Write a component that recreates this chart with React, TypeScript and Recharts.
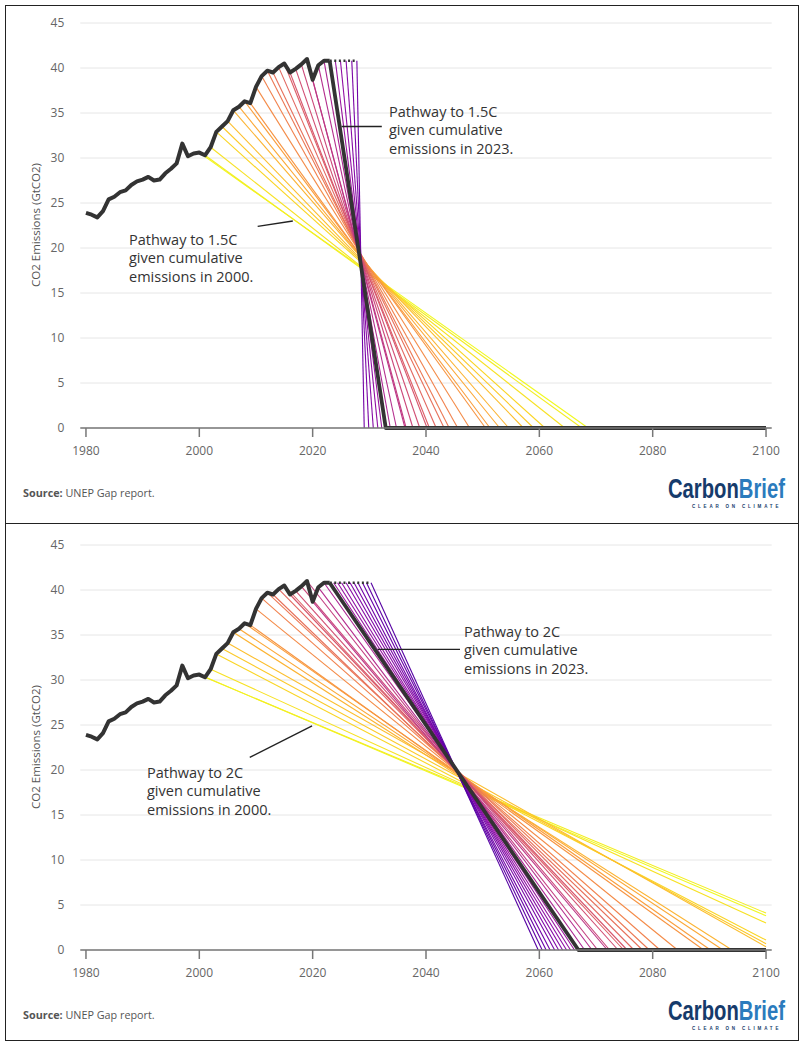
import { CartesianGrid, Line, LineChart, ReferenceLine, XAxis, YAxis } from "recharts";

// historical emissions, GtCO2
const histYears = [
  1980, 1981, 1982, 1983, 1984, 1985, 1986, 1987, 1988, 1989, 1990, 1991, 1992, 1993, 1994,
  1995, 1996, 1997, 1998, 1999, 2000, 2001, 2002, 2003, 2004, 2005, 2006, 2007, 2008, 2009,
  2010, 2011, 2012, 2013, 2014, 2015, 2016, 2017, 2018, 2019, 2020, 2021, 2022, 2023,
];
const histValues = [
  23.9, 23.7, 23.4, 24.1, 25.4, 25.7, 26.2, 26.4, 27.0, 27.4, 27.6, 27.9, 27.5, 27.6, 28.3,
  28.8, 29.4, 31.6, 30.2, 30.5, 30.6, 30.3, 31.2, 32.9, 33.5, 34.1, 35.3, 35.7, 36.3, 36.1,
  37.9, 39.1, 39.7, 39.5, 40.1, 40.5, 39.5, 39.9, 40.4, 41.0, 38.7, 40.3, 40.8, 40.8,
];
const flatLevel = 40.8;

// pathways starting from historical years 2000..2022
const preStartYears = [
  2000, 2001, 2002, 2003, 2004, 2005, 2006, 2007, 2008, 2009, 2010, 2011, 2012, 2013, 2014,
  2015, 2016, 2017, 2018, 2019, 2020, 2021, 2022,
];

// 1.5C panel
const pre15EndYear = [
  2068.6, 2067.5, 2064.5, 2061.0, 2059.0, 2057.2, 2054.6, 2053.0, 2051.3, 2050.5, 2047.7,
  2045.6, 2044.1, 2043.2, 2041.8, 2040.6, 2040.2, 2038.9, 2037.7, 2036.5, 2036.3, 2034.8,
  2033.7,
];
const pre15EndValue = [0, 0, 0, 0, 0, 0, 0, 0, 0, 0, 0, 0, 0, 0, 0, 0, 0, 0, 0, 0, 0, 0, 0];
const post15Start = [2024, 2024.9, 2025.9, 2026.9, 2027.8];
const post15End = [2032.2, 2031.5, 2030.7, 2029.9, 2029.1];
const main15End = 2032.9;

// 2C panel
const pre2EndYear = [
  2100, 2100, 2100, 2100, 2100, 2100, 2094.0, 2092.4, 2090.2, 2089.0, 2084.4, 2081.3, 2079.4,
  2078.2, 2076.7, 2074.9, 2075.5, 2073.9, 2072.4, 2070.3, 2072.0, 2069.3, 2068.0,
];
const pre2EndValue = [3.8, 4.1, 3.0, 1.1, 0.7, 0.35, 0, 0, 0, 0, 0, 0, 0, 0, 0, 0, 0, 0, 0, 0, 0, 0, 0];
const post2Start = [2023.7, 2024.4, 2025.1, 2025.9, 2026.6, 2027.3, 2028.0, 2028.8, 2029.5, 2030.3];
const post2End = [2066.2, 2065.5, 2064.8, 2064.1, 2063.4, 2062.7, 2061.9, 2061.2, 2060.5, 2059.8];
const main2End = 2066.9;

const xTicks = [1980, 2000, 2020, 2040, 2060, 2080, 2100];
const yTicks = [0, 5, 10, 15, 20, 25, 30, 35, 40, 45];

const FONT = "'Open Sans', 'Noto Sans', sans-serif";

const PLASMA = [
  "#0d0887", "#41049d", "#6a00a8", "#8f0da4", "#b12a90", "#cc4778",
  "#e16462", "#f2844b", "#fca636", "#fcce25", "#f0f921",
];

function hex(c: string) {
  return [1, 3, 5].map((i) => parseInt(c.slice(i, i + 2), 16));
}

function plasma(u: number) {
  const p = Math.max(0, Math.min(1, u)) * 10;
  const i = Math.min(9, Math.floor(p));
  const f = p - i;
  const a = hex(PLASMA[i]);
  const b = hex(PLASMA[i + 1]);
  const m = a.map((v, k) => Math.round(v + (b[k] - v) * f));
  return `rgb(${m[0]},${m[1]},${m[2]})`;
}

function pathColor(start: number) {
  return plasma(1 - (start - 2000) * 0.028);
}

function histAt(year: number) {
  return histValues[histYears.indexOf(year)];
}

type Pt = { x: number; y: number };
type Path = { start: number; pts: Pt[] };

type PanelProps = {
  top: number;
  preEndYear: number[];
  preEndValue: number[];
  postStart: number[];
  postEnd: number[];
  mainEnd: number;
  leaders: [Pt, Pt][];
  notes: { left: number; top: number; lines: string[] }[];
};

function Logo() {
  return (
    <svg style={{ position: "absolute", left: 650, top: 470 }} width={145} height={45}>
      <text
        transform="translate(18,28) scale(0.723,1)"
        fontFamily="'Liberation Sans', Arial, sans-serif"
        fontWeight="bold"
        fontSize={28}
      >
        <tspan fill="#163b6b">Carbon</tspan>
        <tspan fill="#2b7bbd">Brief</tspan>
      </text>
      <text
        x={42}
        y={38}
        fontFamily="'Liberation Sans', Arial, sans-serif"
        fontWeight="bold"
        fontSize={4.5}
        letterSpacing={2.8}
        fill="#163b6b"
      >
        CLEAR ON CLIMATE
      </text>
    </svg>
  );
}

function Panel(props: PanelProps) {
  const hist = histYears.map((x, i) => ({ x, y: histValues[i] }));
  const paths: Path[] = [
    ...preStartYears.map((s, i) => ({
      start: s,
      pts: [
        { x: s, y: histAt(s) },
        { x: props.preEndYear[i], y: props.preEndValue[i] },
      ],
    })),
    ...props.postStart.map((s, i) => ({
      start: s,
      pts: [
        { x: s, y: flatLevel },
        { x: props.postEnd[i], y: 0 },
      ],
    })),
  ];
  const flatEnd = props.postStart[props.postStart.length - 1];
  const dotted = [
    { x: 2023, y: flatLevel },
    { x: flatEnd, y: flatLevel },
  ];
  const main = [
    { x: 2023, y: flatLevel },
    { x: props.mainEnd, y: 0 },
    { x: 2100, y: 0 },
  ];

  return (
    <div style={{ position: "absolute", left: 0, top: props.top, width: 800, height: 518 }}>
      <LineChart
        width={800}
        height={463}
        margin={{ top: 23, right: 28.3, bottom: 5, left: 20.3 }}
      >
        <CartesianGrid vertical={false} stroke="#e6e6e6" strokeWidth={1} />
        <XAxis
          type="number"
          dataKey="x"
          domain={[1979, 2101]}
          ticks={xTicks}
          allowDataOverflow
          stroke="#777"
          strokeWidth={1.5}
          tickSize={9}
          tickMargin={9}
          height={30}
          tick={{ fill: "#666", fontSize: 12, fontFamily: FONT }}
        />
        <YAxis
          type="number"
          domain={[0, 45]}
          ticks={yTicks}
          axisLine={false}
          tickLine={false}
          tickSize={0}
          tickMargin={16}
          width={60}
          tick={{ fill: "#666", fontSize: 12, fontFamily: FONT }}
        />
        {paths.map((p, i) => (
          <Line
            key={`p${i}`}
            data={p.pts}
            dataKey="y"
            stroke={pathColor(p.start)}
            strokeWidth={1.1}
            dot={false}
            activeDot={false}
            isAnimationActive={false}
          />
        ))}
        <Line
          data={hist}
          dataKey="y"
          stroke="#333"
          strokeWidth={4}
          strokeLinejoin="round"
          dot={false}
          activeDot={false}
          isAnimationActive={false}
        />
        <Line
          data={dotted}
          dataKey="y"
          stroke="#333"
          strokeWidth={2.5}
          strokeDasharray="2 2.6"
          dot={false}
          activeDot={false}
          isAnimationActive={false}
        />
        <Line
          data={main}
          dataKey="y"
          stroke="#333"
          strokeWidth={3.8}
          strokeLinejoin="round"
          dot={false}
          activeDot={false}
          isAnimationActive={false}
        />
        {props.leaders.map((seg, i) => (
          <ReferenceLine key={`l${i}`} segment={seg} stroke="#222" strokeWidth={1.4} />
        ))}
      </LineChart>

      <div
        style={{
          position: "absolute",
          left: 35,
          top: 225,
          transform: "translate(-50%, -50%) rotate(-90deg)",
          whiteSpace: "nowrap",
          fontFamily: FONT,
          fontSize: 11.5,
          color: "#555",
        }}
      >
        CO2 Emissions (GtCO2)
      </div>

      {props.notes.map((n, i) => (
        <div
          key={`n${i}`}
          style={{
            position: "absolute",
            left: n.left,
            top: n.top,
            fontFamily: FONT,
            fontSize: 14.5,
            lineHeight: "18.8px",
            color: "#333",
            whiteSpace: "nowrap",
          }}
        >
          {n.lines.map((t) => (
            <div key={t}>{t}</div>
          ))}
        </div>
      ))}

      <div
        style={{
          position: "absolute",
          left: 23,
          top: 485,
          fontFamily: FONT,
          fontSize: 10.8,
          color: "#555",
          whiteSpace: "nowrap",
        }}
      >
        <b>Source:</b> UNEP Gap report.
      </div>

      <Logo />
    </div>
  );
}

export default function App() {
  return (
    <div style={{ position: "absolute", left: 0, top: 0, width: 800, height: 1042, background: "#fff" }}>
      <div
        style={{
          position: "absolute",
          left: 5,
          top: 5,
          width: 794,
          height: 519,
          border: "1px solid #222",
          boxSizing: "border-box",
        }}
      />
      <div
        style={{
          position: "absolute",
          left: 5,
          top: 523,
          width: 794,
          height: 518,
          border: "1px solid #222",
          boxSizing: "border-box",
        }}
      />
      <Panel
        top={0}
        preEndYear={pre15EndYear}
        preEndValue={pre15EndValue}
        postStart={post15Start}
        postEnd={post15End}
        mainEnd={main15End}
        leaders={[
          [
            { x: 2025.1, y: 33.5 },
            { x: 2032.2, y: 33.5 },
          ],
          [
            { x: 2010.3, y: 22.4 },
            { x: 2016.5, y: 23.0 },
          ],
        ]}
        notes={[
          { left: 389, top: 102.5, lines: ["Pathway to 1.5C", "given cumulative", "emissions in 2023."] },
          { left: 129, top: 230.5, lines: ["Pathway to 1.5C", "given cumulative", "emissions in 2000."] },
        ]}
      />
      <Panel
        top={522}
        preEndYear={pre2EndYear}
        preEndValue={pre2EndValue}
        postStart={post2Start}
        postEnd={post2End}
        mainEnd={main2End}
        leaders={[
          [
            { x: 2031.5, y: 33.4 },
            { x: 2046.0, y: 33.4 },
          ],
          [
            { x: 2008.9, y: 21.4 },
            { x: 2019.9, y: 24.9 },
          ],
        ]}
        notes={[
          { left: 464, top: 100.5, lines: ["Pathway to 2C", "given cumulative", "emissions in 2023."] },
          { left: 147, top: 241.5, lines: ["Pathway to 2C", "given cumulative", "emissions in 2000."] },
        ]}
      />
    </div>
  );
}
